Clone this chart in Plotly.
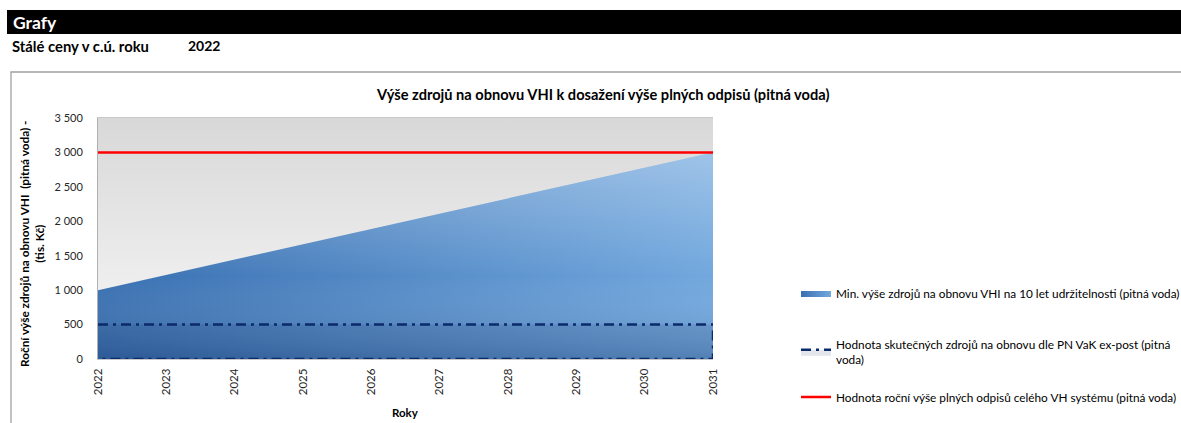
import plotly.graph_objects as go

# ---------------- data ----------------
years = [2022, 2023, 2024, 2025, 2026, 2027, 2028, 2029, 2030, 2031]
min_sources = [1000, 1222, 1444, 1667, 1889, 2111, 2333, 2556, 2778, 3000]
actual_sources = [500, 500, 500, 500, 500, 500, 500, 500, 500, 500]
full_depreciation = [3000, 3000, 3000, 3000, 3000, 3000, 3000, 3000, 3000, 3000]
y_ticks = [0, 500, 1000, 1500, 2000, 2500, 3000, 3500]

name_min = "Min. výše zdrojů na obnovu VHI na 10 let udržitelnosti (pitná voda)"
name_actual = "Hodnota skutečných zdrojů na obnovu dle PN VaK ex-post (pitná<br>voda)"
name_full = "Hodnota roční výše plných odpisů celého VH systému (pitná voda)"
chart_title = "Výše zdrojů na obnovu VHI k dosažení výše plných odpisů (pitná voda)"
y_title = "Roční výše zdrojů na obnovu VHI  (pitná voda) -<br>(tis. Kč)"
x_title = "Roky"

# ---------------- layout geometry (pixels) ----------------
W, H = 1181, 423
L, R, T, B = 98, 713, 118, 359  # plot area edges
PW, PH = R - L, B - T


def px(x):
    return (x - L) / PW


def py(y):
    return (B - y) / PH


FONT = "Lato"
Y_MAX = y_ticks[-1]

fig = go.Figure()

# plot-area gradient background
fig.add_trace(go.Scatter(
    x=[years[0], years[-1], years[-1], years[0]],
    y=[0, 0, Y_MAX, Y_MAX],
    fill="toself", mode="lines", line=dict(width=0),
    fillgradient=dict(type="vertical", colorscale=[[0, "#f8f8f8"], [1, "#d8d8d8"]]),
    showlegend=False, hoverinfo="skip"))

# min sources area (base horizontal gradient)
fig.add_trace(go.Scatter(
    x=years, y=min_sources, name=name_min, mode="lines",
    line=dict(width=0), fill="tozeroy",
    fillgradient=dict(type="horizontal",
                      colorscale=[[0, "#3970b1"], [1, "#72a8de"]]),
    legend="legend"))
# vertical shading overlay
fig.add_trace(go.Scatter(
    x=years, y=min_sources, mode="lines", line=dict(width=0), fill="tozeroy",
    fillgradient=dict(type="vertical", start=0, stop=3000,
                      colorscale=[[0, "rgba(15,40,90,0.22)"],
                                  [0.4, "rgba(255,255,255,0)"],
                                  [1, "rgba(255,255,255,0.32)"]]),
    showlegend=False, hoverinfo="skip"))

# actual sources (dash-dot bordered area)
fig.add_trace(go.Scatter(
    x=years + years[::-1],
    y=actual_sources + [0] * len(actual_sources),
    name=name_actual, mode="lines", fill="toself",
    fillcolor="rgba(25,50,100,0.12)",
    line=dict(color="#0b2a6b", width=2.5, dash="10px,5px,3px,5px"),
    cliponaxis=False, legend="legend2"))

# full depreciation line
fig.add_trace(go.Scatter(
    x=years, y=full_depreciation, name=name_full, mode="lines",
    line=dict(color="#ff0000", width=2.5), cliponaxis=False,
    legend="legend3"))

leg_common = dict(xanchor="left", yanchor="middle", bgcolor="rgba(0,0,0,0)",
                  font=dict(family=FONT, size=11.8, color="#000000"),
                  itemwidth=30)

fig.update_layout(
    width=W, height=H,
    margin=dict(l=L, r=W - R, t=T, b=H - B, autoexpand=False),
    paper_bgcolor="white", plot_bgcolor="rgba(0,0,0,0)",
    separators=", ",
    font=dict(family=FONT, size=11, color="#000000"),
    xaxis=dict(range=[years[0], years[-1]], tickmode="array", tickvals=years,
               ticktext=[str(y) for y in years], tickangle=-90,
               showgrid=False, zeroline=False, showline=True,
               linecolor="#c8c8c8", linewidth=1, mirror=True,
               ticks="", ticklabelstandoff=4,
               tickfont=dict(family=FONT, size=11.5, color="#262626")),
    yaxis=dict(range=[0, Y_MAX], tickmode="array", tickvals=y_ticks,
               tickformat=",d", showgrid=False, zeroline=False,
               showline=True, linecolor="#b0b0b0", linewidth=1,
               ticks="", ticklabelstandoff=12,
               tickfont=dict(family=FONT, size=11, color="#262626")),
    legend=dict(x=px(796), y=py(293), **leg_common),
    legend2=dict(x=px(796), y=py(352), **leg_common),
    legend3=dict(x=px(796), y=py(397), **leg_common),
    showlegend=True,
)

shapes = [
    # black header bar
    dict(type="rect", xref="paper", yref="paper", x0=px(7), x1=px(1185),
         y0=py(34), y1=py(10), fillcolor="#000000", line=dict(width=0),
         layer="above"),
    # chart outer border
    dict(type="rect", xref="paper", yref="paper", x0=px(11), x1=px(1195),
         y0=py(440), y1=py(72), fillcolor="rgba(0,0,0,0)",
         line=dict(color="#a0a0a0", width=1.3), layer="below"),
]
fig.update_layout(shapes=shapes)

annotations = [
    dict(text="<b>Grafy</b>", x=px(11), y=py(22), xref="paper", yref="paper",
         xanchor="left", yanchor="middle", showarrow=False,
         font=dict(family=FONT, size=17.5, color="#ffffff")),
    dict(text="<b>Stálé ceny v c.ú. roku</b>", x=px(10), y=py(46),
         xref="paper", yref="paper", xanchor="left", yanchor="middle",
         showarrow=False, font=dict(family=FONT, size=14.8, color="#000000")),
    dict(text="<b>2022</b>", x=px(186), y=py(46), xref="paper", yref="paper",
         xanchor="left", yanchor="middle", showarrow=False,
         font=dict(family=FONT, size=14, color="#000000")),
    dict(text="<b>" + chart_title + "</b>", x=px(602), y=py(95),
         xref="paper", yref="paper", xanchor="center", yanchor="middle",
         showarrow=False, font=dict(family=FONT, size=14.6, color="#000000")),
    dict(text="<b>" + y_title + "</b>", x=px(32), y=py(244), xref="paper",
         yref="paper", xanchor="center", yanchor="middle", textangle=-90,
         showarrow=False, font=dict(family=FONT, size=11.8, color="#000000")),
    dict(text="<b>" + x_title + "</b>", x=px(405), y=py(412), xref="paper",
         yref="paper", xanchor="center", yanchor="middle", showarrow=False,
         font=dict(family=FONT, size=11.5, color="#000000")),
]
fig.update_layout(annotations=annotations)

fig.write_html(
    "out.html",
    config={"displayModeBar": False},
    post_script="document.body.style.margin='0';document.body.style.overflow='hidden';",
)
